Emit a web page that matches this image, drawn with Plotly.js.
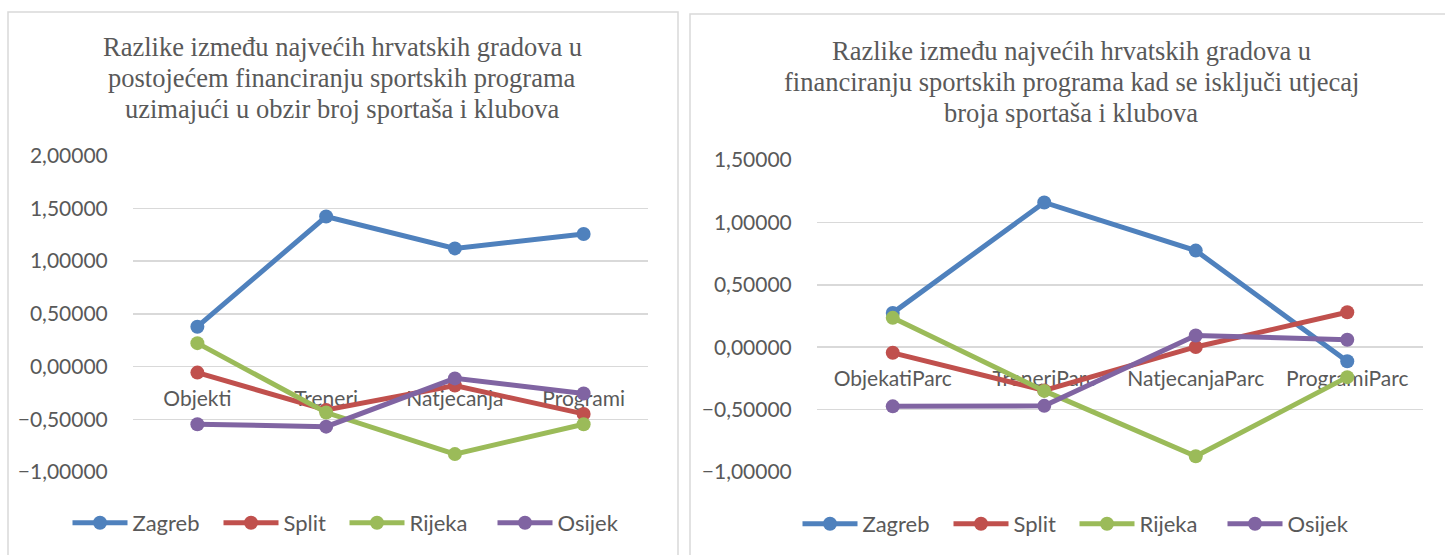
<!DOCTYPE html>
<html>
<head>
<meta charset="utf-8">
<script src="https://cdn.plot.ly/plotly-3.0.1.min.js"></script>
<style>
html,body{margin:0;padding:0;background:#fff;}
#chart{width:1445px;height:555px;}
</style>
</head>
<body>
<div id="chart"></div>
<script>
// ---- data ----
const seriesNames = ["Zagreb", "Split", "Rijeka", "Osijek"];
const seriesColors = ["#4F81BD", "#C0504D", "#9BBB59", "#8064A2"];

const leftCategories = ["Objekti", "Treneri", "Natjecanja", "Programi"];
const leftZagreb = [0.378, 1.423, 1.121, 1.258];
const leftSplit  = [-0.057, -0.412, -0.180, -0.449];
const leftRijeka = [0.222, -0.436, -0.830, -0.547];
const leftOsijek = [-0.547, -0.570, -0.112, -0.255];
const leftTitleLines = [
  "Razlike između najvećih hrvatskih gradova u",
  "postojećem financiranju sportskih programa",
  "uzimajući u obzir broj sportaša i klubova"
];

const rightCategories = ["ObjekatiParc", "TreneriParc", "NatjecanjaParc", "ProgramiParc"];
const rightZagreb = [0.275, 1.160, 0.774, -0.112];
const rightSplit  = [-0.045, -0.346, 0.002, 0.280];
const rightRijeka = [0.235, -0.350, -0.874, -0.240];
const rightOsijek = [-0.474, -0.470, 0.094, 0.060];
const rightTitleLines = [
  "Razlike između najvećih hrvatskih gradova u",
  "financiranju sportskih programa kad se isključi utjecaj",
  "broja sportaša i klubova"
];

// ---- styling (not data) ----
const legendEntryWidths = [81, 56, 78, 60];

// ---- layout helpers ----
const W = 1445, H = 555;
const fx = px => px / W;
const fy = py => 1 - py / H;

const leftVals = [leftZagreb, leftSplit, leftRijeka, leftOsijek];
const rightVals = [rightZagreb, rightSplit, rightRijeka, rightOsijek];

const traces = [];
seriesNames.forEach((name, i) => {
  traces.push({
    type: "scatter", mode: "lines+markers", name: name,
    x: leftCategories, y: leftVals[i], xaxis: "x", yaxis: "y",
    line: {color: seriesColors[i], width: 5},
    marker: {color: seriesColors[i], size: 14},
    legend: "legend", legendwidth: legendEntryWidths[i]
  });
});
seriesNames.forEach((name, i) => {
  traces.push({
    type: "scatter", mode: "lines+markers", name: name,
    x: rightCategories, y: rightVals[i], xaxis: "x2", yaxis: "y2",
    line: {color: seriesColors[i], width: 5},
    marker: {color: seriesColors[i], size: 14},
    legend: "legend2", legendwidth: legendEntryWidths[i]
  });
});

const tickFont = {family: "Lato", size: 21, color: "#595959"};
const legendFont = {family: "Lato", size: 22, color: "#595959"};
const titleFont = {family: "'Liberation Serif'", size: 26.5, color: "#595959"};

const lRange = [-1, 2], rRange = [-1, 1.5];
const lDom = [fy(472), fy(155.7)], rDom = [fy(472), fy(160)];
const axisPos = (dom, rng) => dom[0] + (0 - rng[0]) / (rng[1] - rng[0]) * (dom[1] - dom[0]);

function yaxisCfg(dom, rng, anchor) {
  return {
    domain: dom, range: rng, anchor: anchor, dtick: 0.5, tick0: 0,
    tickformat: ".5f", showgrid: true, gridcolor: "#D9D9D9", gridwidth: 1.5,
    zeroline: false, showline: false, ticks: "outside", ticklen: 20,
    tickcolor: "rgba(0,0,0,0)", tickfont: tickFont, fixedrange: true
  };
}
function xaxisCfg(dom, pos) {
  return {
    domain: dom, range: [-0.5, 3.5], type: "category", anchor: "free",
    position: pos, showgrid: false, zeroline: false,
    showline: false, ticks: "outside", ticklen: 13, tickcolor: "rgba(0,0,0,0)",
    tickfont: tickFont, layer: "below traces", fixedrange: true
  };
}

const annotations = [];
const lTitleY = [46.7, 78, 109];
const rTitleY = [51.5, 82, 112.7];
leftTitleLines.forEach((t, i) => annotations.push({
  text: t, xref: "paper", yref: "paper", x: fx(342), y: fy(lTitleY[i]),
  xanchor: "center", yanchor: "middle", showarrow: false, font: titleFont
}));
rightTitleLines.forEach((t, i) => annotations.push({
  text: t, xref: "paper", yref: "paper", x: fx(1071), y: fy(rTitleY[i]),
  xanchor: "center", yanchor: "middle", showarrow: false, font: titleFont
}));

const layout = {
  width: W, height: H,
  margin: {l: 0, r: 0, t: 0, b: 0},
  paper_bgcolor: "#ffffff", plot_bgcolor: "rgba(0,0,0,0)",
  separators: ", ",
  showlegend: true,
  xaxis: xaxisCfg([fx(133), fx(648)], axisPos(lDom, lRange)),
  yaxis: yaxisCfg(lDom, lRange, "x"),
  xaxis2: xaxisCfg([fx(817), fx(1423)], axisPos(rDom, rRange)),
  yaxis2: yaxisCfg(rDom, rRange, "x2"),
  legend: {
    orientation: "h", x: fx(67.5), y: fy(523), xanchor: "left", yanchor: "middle",
    font: legendFont, bgcolor: "rgba(0,0,0,0)", itemwidth: 55,
    itemclick: false, itemdoubleclick: false
  },
  legend2: {
    orientation: "h", x: fx(797.5), y: fy(524), xanchor: "left", yanchor: "middle",
    font: legendFont, bgcolor: "rgba(0,0,0,0)", itemwidth: 55,
    itemclick: false, itemdoubleclick: false
  },
  annotations: annotations,
  shapes: [
    {type: "rect", xref: "paper", yref: "paper", x0: fx(8), x1: fx(678), y0: fy(560), y1: fy(12),
     line: {color: "#D9D9D9", width: 1.5}, fillcolor: "rgba(0,0,0,0)", layer: "below"},
    {type: "rect", xref: "paper", yref: "paper", x0: fx(690), x1: fx(1460), y0: fy(560), y1: fy(14),
     line: {color: "#D9D9D9", width: 1.5}, fillcolor: "rgba(0,0,0,0)", layer: "below"}
  ]
};

Plotly.newPlot("chart", traces, layout, {displayModeBar: false, staticPlot: true});
</script>
</body>
</html>
